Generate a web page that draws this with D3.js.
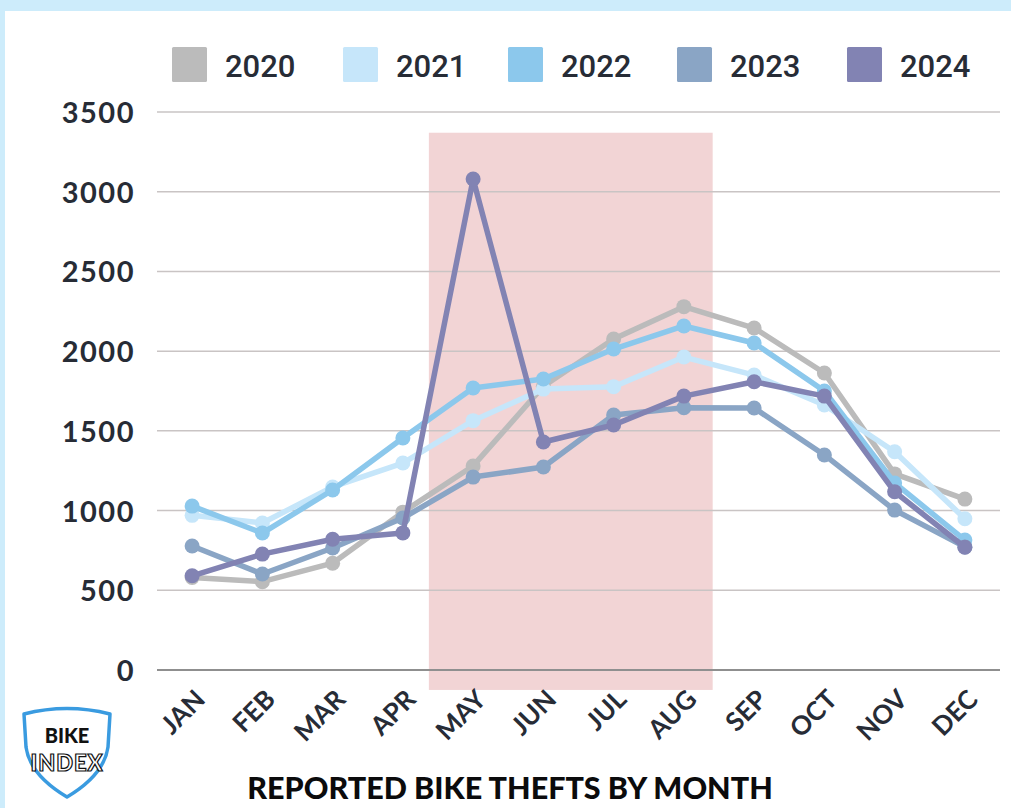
<!DOCTYPE html>
<html>
<head>
<meta charset="utf-8">
<script src="https://cdn.jsdelivr.net/npm/d3@7"></script>
<style>
html,body{margin:0;padding:0;background:#cdecfb;}
svg{display:block;}
</style>
</head>
<body>
<script>
const months = ["JAN","FEB","MAR","APR","MAY","JUN","JUL","AUG","SEP","OCT","NOV","DEC"];
const years = ["2020","2021","2022","2023","2024"];
const yTicks = [0,500,1000,1500,2000,2500,3000,3500];
const colors = ["#bbbbbb","#c6e6fa","#8cc8ec","#8aa5c5","#8283b3"];
const s2020 = [580,554,670,990,1280,1780,2076,2279,2145,1863,1230,1072];
const s2021 = [970,922,1148,1298,1564,1762,1777,1963,1850,1662,1369,949];
const s2022 = [1028,859,1129,1455,1769,1825,2013,2158,2051,1750,1173,815];
const s2023 = [778,602,765,953,1210,1273,1599,1645,1643,1349,1003,772];
const s2024 = [591,727,820,860,3080,1430,1537,1718,1808,1718,1118,770];
const highlightMonths = ["MAY","AUG"];
const seriesValues = [s2020,s2021,s2022,s2023,s2024];

(function(){
const W = 1011, H = 808;
const svg = d3.select("body").append("svg").attr("width",W).attr("height",H);

svg.append("rect").attr("width",W).attr("height",H).attr("fill","#cdecfb");
svg.append("rect").attr("x",5).attr("y",11).attr("width",W-5).attr("height",H-11).attr("fill","#ffffff");

const mLeft = 157, mRight = 1000, mTop = 112, mBottom = 670;
const x = d3.scalePoint().domain(months).range([mLeft,mRight]).padding(0.5);
const y = d3.scaleLinear().domain([0,3500]).range([mBottom,mTop]);
const step = x.step();

// highlight band
svg.append("rect")
  .attr("x", x(highlightMonths[0]) - step*0.63)
  .attr("y", y(3370))
  .attr("width", x(highlightMonths[1]) - x(highlightMonths[0]) + step*1.04)
  .attr("height", y(-125) - y(3370))
  .attr("fill","#f2d4d5");

// gridlines
const grid = svg.append("g");
grid.selectAll("line").data(yTicks).join("line")
  .attr("x1",mLeft).attr("x2",mRight)
  .attr("y1",d=>y(d)).attr("y2",d=>y(d))
  .attr("stroke",d=>d===0?"#8f8f8f":"#c9c4c4")
  .attr("stroke-width",d=>d===0?2:1.5);

// y axis labels
const yAxis = d3.axisLeft(y).tickValues(yTicks).tickFormat(d3.format("d")).tickSize(0).tickPadding(0);
const yg = svg.append("g").attr("transform",`translate(135,0)`).call(yAxis);
yg.select(".domain").remove();
yg.selectAll("text")
  .attr("fill","#272c36")
  .style("font-family","Lato, sans-serif")
  .style("font-weight","700")
  .style("font-size","29px")
  .style("letter-spacing","1.5px")
  .attr("dy","0.36em");

// x axis labels
const xAxis = d3.axisBottom(x).tickSize(0).tickPadding(0);
const xg = svg.append("g").attr("transform",`translate(0,${mBottom})`).call(xAxis);
xg.select(".domain").remove();
xg.selectAll("text")
  .attr("fill","#272c36")
  .style("font-family","Lato, sans-serif")
  .style("font-weight","700")
  .style("font-size","26px")
  .attr("text-anchor","end")
  .attr("dy","0")
  .attr("y",0)
  .attr("transform","translate(14,31) rotate(-45)");

// lines and points
const line = d3.line().x((d,i)=>x(months[i])).y(d=>y(d));
years.forEach((yr,k)=>{
  const g = svg.append("g");
  g.append("path").datum(seriesValues[k])
    .attr("d",line).attr("fill","none")
    .attr("stroke",colors[k]).attr("stroke-width",5.5)
    .attr("stroke-linejoin","round");
  g.selectAll("circle").data(seriesValues[k]).join("circle")
    .attr("cx",(d,i)=>x(months[i])).attr("cy",d=>y(d))
    .attr("r",7.5).attr("fill",colors[k]);
});

// legend
const legendX = [172,343,508,677,847];
const lg = svg.append("g");
years.forEach((yr,k)=>{
  lg.append("rect").attr("x",legendX[k]).attr("y",47).attr("width",35).attr("height",35)
    .attr("rx",1.5).attr("fill",colors[k]);
  lg.append("text").attr("x",legendX[k]+53).attr("y",77).text(yr)
    .attr("fill","#272c36")
    .style("font-family","Roboto, sans-serif")
    .style("font-weight","500")
    .style("font-size","31px");
});

// title
svg.append("text").attr("x",510).attr("y",799).attr("text-anchor","middle")
  .text("REPORTED BIKE THEFTS BY MONTH")
  .attr("fill","#0b0b0c")
  .style("font-family","Lato, sans-serif")
  .style("font-weight","900")
  .style("font-size","30.5px");

// logo
const logo = svg.append("g").attr("transform","translate(22,711)");
logo.append("path")
  .attr("d","M2,3 Q45,-8 88,3 L86,36 Q82,64 45,86 Q8,64 4,36 Z")
  .attr("fill","none").attr("stroke","#3a9be0").attr("stroke-width",3.5)
  .attr("stroke-linejoin","round");
logo.append("text").attr("text-anchor","middle").attr("x",45).attr("y",32).text("BIKE")
  .attr("fill","#111").style("font-family","Lato, sans-serif").style("font-weight","900")
  .style("font-size","20px");
logo.append("text").attr("text-anchor","middle").attr("x",45).attr("y",60).text("INDEX")
  .attr("fill","#fff").attr("stroke","#111").attr("stroke-width",1.2)
  .style("font-family","Lato, sans-serif").style("font-weight","900")
  .style("font-size","22px").style("letter-spacing","1px");
})();
</script>
</body>
</html>
